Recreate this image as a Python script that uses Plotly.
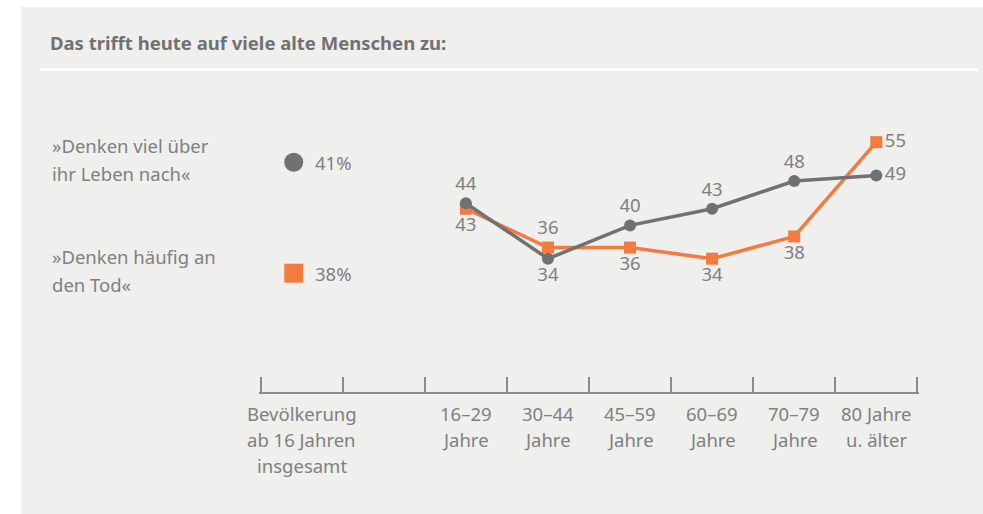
import plotly.graph_objects as go

# ---------------- data ----------------
title_text = "Das trifft heute auf viele alte Menschen zu:"
categories = ["Bevölkerung\nab 16 Jahren\ninsgesamt", "", "16–29\nJahre", "30–44\nJahre",
              "45–59\nJahre", "60–69\nJahre", "70–79\nJahre", "80 Jahre\nu. älter"]
age_groups = categories[2:]
series_names = ["»Denken viel über\nihr Leben nach«", "»Denken häufig an\nden Tod«"]
leben = [44, 34, 40, 43, 48, 49]
tod = [43, 36, 36, 34, 38, 55]
totals = [41, 38]

# ---------------- style ----------------
W, H = 983, 514
ML, MR, MT, MB = 259, 64, 100, 122
PW, PH = W - ML - MR, H - MT - MB
FONT = "Noto Sans"
TXT = "#808080"
GREY = "#717175"
ORANGE = "#f47b3f"
PANEL = "#efefed"
FS = 18.5
PAD = 0.02


def px_x(px):
    return (px - ML) / PW


def px_y(py):
    return (H - MB - py) / PH


x_idx = [categories.index(g) for g in age_groups]
n = len(leben)


def positions(a, b):
    out = []
    for i in range(n):
        if i == n - 1:
            out.append("middle right")
        elif a[i] > b[i]:
            out.append("top center")
        else:
            out.append("bottom center")
    return out


fig = go.Figure()
fig.add_trace(go.Scatter(
    x=x_idx, y=tod, mode="lines+markers+text",
    line=dict(color=ORANGE, width=3.5),
    marker=dict(symbol="square", size=12, color=ORANGE),
    text=[str(v) for v in tod], textposition=positions(tod, leben),
    textfont=dict(family=FONT, size=FS, color=TXT),
    cliponaxis=False, hoverinfo="skip", showlegend=False))
fig.add_trace(go.Scatter(
    x=x_idx, y=leben, mode="lines+markers+text",
    line=dict(color=GREY, width=3.5),
    marker=dict(symbol="circle", size=12, color=GREY),
    text=[str(v) for v in leben], textposition=positions(leben, tod),
    textfont=dict(family=FONT, size=FS, color=TXT),
    cliponaxis=False, hoverinfo="skip", showlegend=False))

# totals (legend-like markers)
names_flat = [s.replace("\n", " ") for s in series_names]
fig.add_trace(go.Scatter(
    x=[categories[0]] * 2, y=names_flat, mode="markers",
    marker=dict(symbol=["circle", "square"], size=19, color=[GREY, ORANGE]),
    xaxis="x2", yaxis="y2", cliponaxis=False, hoverinfo="skip", showlegend=False))

annotations = []
for name, v in zip(names_flat, totals):
    annotations.append(dict(x=categories[0], y=name, xref="x2", yref="y2",
                            text=f"{v}%", showarrow=False, xanchor="left", yanchor="middle",
                            xshift=19, font=dict(family=FONT, size=FS, color=TXT)))
for name, full in zip(names_flat, series_names):
    for j, line in enumerate(full.split("\n")):
        annotations.append(dict(x=px_x(50), y=name, xref="paper", yref="y2",
                                text=line, showarrow=False, xanchor="left", yanchor="middle",
                                yshift=16.5 - 28 * j, font=dict(family=FONT, size=FS, color=TXT)))
for i, cat in enumerate(categories):
    for j, line in enumerate(cat.split("\n")):
        if not line:
            continue
        annotations.append(dict(x=i, y=0, xref="x", yref="paper", text=line, showarrow=False,
                                xanchor="center", yanchor="middle", yshift=-(21 + 26 * j),
                                font=dict(family=FONT, size=FS, color=TXT)))
annotations.append(dict(x=px_x(48), y=px_y(42.5), xref="paper", yref="paper",
                        text=f"<b>{title_text}</b>", showarrow=False, xanchor="left",
                        yanchor="middle", font=dict(family=FONT, size=18.5, color="#717174")))

shapes = [
    dict(type="rect", xref="paper", yref="paper", x0=px_x(-5), x1=px_x(21), y0=px_y(520), y1=px_y(-5),
         fillcolor="white", line=dict(width=0), layer="below"),
    dict(type="rect", xref="paper", yref="paper", x0=px_x(-5), x1=px_x(990), y0=px_y(7), y1=px_y(-5),
         fillcolor="white", line=dict(width=0), layer="below"),
    dict(type="line", xref="paper", yref="paper", x0=px_x(40), x1=px_x(978), y0=px_y(69.5), y1=px_y(69.5),
         line=dict(color="white", width=3)),
]

fig.update_layout(
    width=W, height=H,
    margin=dict(l=ML, r=MR, t=MT, b=MB),
    paper_bgcolor=PANEL, plot_bgcolor=PANEL,
    font=dict(family=FONT, size=FS, color=TXT),
    xaxis=dict(range=[-0.5 - PAD, len(categories) - 0.5 + PAD],
               tickvals=[i - 0.5 for i in range(len(categories) + 1)],
               ticks="inside", ticklen=15, tickwidth=1.5, tickcolor="#8c8c8c",
               showticklabels=False, showline=True, linecolor="#8c8c8c", linewidth=1.5,
               showgrid=False, zeroline=False, fixedrange=True),
    yaxis=dict(range=[9.97, 62.6], visible=False, showgrid=False, zeroline=False),
    xaxis2=dict(type="category", categoryarray=categories, overlaying="x", range=[-0.5, 9.0],
                visible=False),
    yaxis2=dict(type="category", categoryarray=names_flat, overlaying="y", range=[2.07, -0.56],
                visible=False),
    annotations=annotations, shapes=shapes,
)

fig.write_html("out.html", config={"displayModeBar": False},
               post_script="document.body.style.margin='0';document.body.style.overflow='hidden';")
